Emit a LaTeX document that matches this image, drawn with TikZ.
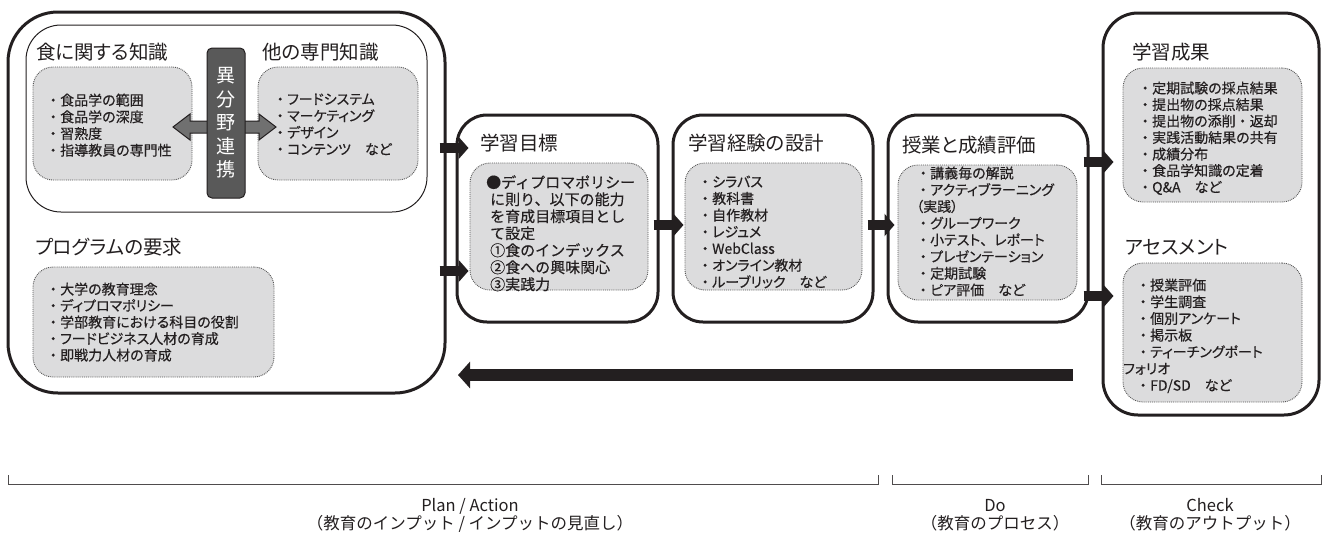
\documentclass[tikz,border=0pt]{standalone}
\usepackage{fontspec}
\usetikzlibrary{arrows.meta}
\newfontfamily\jp[RawFeature=+palt]{Noto Sans CJK JP}
\newfontfamily\jpm[RawFeature=+palt, FakeBold=0.35]{Noto Sans CJK JP}
\newfontfamily\jpn{Noto Sans CJK JP}
\newfontfamily\jpnm[FakeBold=0.35]{Noto Sans CJK JP}
\newcommand\jbul{{\jpnm ・}}
\newcommand\jten{{\jpnm 、}}
\definecolor{ink}{HTML}{231F20}
\definecolor{lgray}{HTML}{DCDCDD}
\definecolor{dgray}{HTML}{595959}
\definecolor{agray}{HTML}{707070}
\definecolor{dotc}{HTML}{555555}
\begin{document}
\begin{tikzpicture}[x=1pt,y=-1pt,
  bigbox/.style={draw=ink, line width=3pt, rounded corners=#1, inner sep=0pt, fill=white},
  thinbox/.style={draw=ink, line width=1pt, rounded corners=35pt, inner sep=0pt},
  graybox/.style={draw=dotc, fill=lgray, line width=0.9pt, densely dotted, rounded corners=20pt, inner sep=0pt},
  darkbox/.style={draw=ink, fill=dgray, line width=1pt, rounded corners=5pt, inner sep=0pt},
  ttl/.style={inner sep=0pt, anchor=west, text=ink, font=\jp\fontsize{19.5}{22}\selectfont},
  lst/.style={inner sep=0pt, anchor=north west, align=left, text=ink, font=\jpm\fontsize{14}{#1}\selectfont},
  blk/.style={draw=ink, line width=10pt, -{Triangle[length=10pt,width=22pt]}},
  ret/.style={draw=ink, line width=12pt, -{Triangle[length=12pt,width=26pt]}},
  brk/.style={draw=ink!80, line width=0.8pt},
  lbl/.style={inner sep=0pt, align=center, text=ink, font=\jpn\fontsize{16.5}{18}\selectfont}]
\useasboundingbox (0,0) rectangle (1323,536);

% ---------- Plan box ----------
\node[bigbox=50pt, minimum width=437pt, minimum height=381pt] (plan) at (226.5,202.5) {};
\node[thinbox, minimum width=401pt, minimum height=187pt] (know) at (226.5,118.5) {};
\node[ttl] (tfood) at (36,52) {食に関する知識};
\node[ttl] (tother) at (262,52) {他の専門知識};
\node[graybox, minimum width=159pt, minimum height=113pt] (foodg) at (112.5,123.5) {};
\node[graybox, minimum width=160pt, minimum height=113pt] (otherg) at (338,123.5) {};
\node[lst=16.7] (lfood) at (46,93.4) {\jbul 食品学の範囲\\\jbul 食品学の深度\\\jbul 習熟度\\\jbul 指導教員の専門性};
\node[lst=16.7] (lother) at (273,93.4) {\jbul フードシステム\\\jbul マーケティング\\\jbul デザイン\\\jbul コンテンツ　など};
\fill[agray, draw=ink, line width=1pt] (173,127) -- (190,114) -- (190,121) -- (259,121) -- (259,114) -- (276,127) -- (259,140) -- (259,133) -- (190,133) -- (190,140) -- cycle;
\node[darkbox, minimum width=38pt, minimum height=150pt, align=center, text=white, font=\jpn\fontsize{19}{23.5}\selectfont] (ibun) at (226,123) {異\\分\\野\\連\\携};

\node[ttl] (tprog) at (35,247) {プログラムの要求};
\node[graybox, minimum width=241pt, minimum height=110pt] (progg) at (153.5,322) {};
\node[lst=16.5] (lprog) at (46,282.4) {\jbul 大学の教育理念\\\jbul ディプロマポリシー\\\jbul 学部教育における科目の役割\\\jbul フードビジネス人材の育成\\\jbul 即戦力人材の育成};

% ---------- Goal ----------
\node[bigbox=30pt, minimum width=201pt, minimum height=207pt] (goal) at (557.5,218.5) {};
\node[ttl] (tgoal) at (480,143) {学習目標};
\node[graybox, minimum width=178pt, minimum height=127pt] (goalg) at (559,226.5) {};
\node[inner sep=0pt, anchor=north west, align=left, text=ink, font=\jpnm\fontsize{15}{17}\selectfont] (lgoal) at (486,175)
  {●ディプロマポリシー\\\hspace{4pt}に則り、以下の能力\\\hspace{4pt}を育成目標項目とし\\\hspace{4pt}て設定\\\hspace{4pt}①食のインデックス\\\hspace{4pt}②食への興味関心\\\hspace{4pt}③実践力};

% ---------- Design ----------
\node[bigbox=30pt, minimum width=200pt, minimum height=207pt] (design) at (773,218.5) {};
\node[ttl] (tdesign) at (688,143) {学習経験の設計};
\node[graybox, minimum width=177pt, minimum height=127pt] (designg) at (773.5,226.5) {};
\node[lst=16.7] (ldesign) at (698,175.4) {\jbul シラバス\\\jbul 教科書\\\jbul 自作教材\\\jbul レジュメ\\\jbul WebClass\\\jbul オンライン教材\\\jbul ルーブリック　など};

% ---------- Class ----------
\node[bigbox=30pt, minimum width=200pt, minimum height=207pt] (class) at (988,218.5) {};
\node[ttl] (tclass) at (902,145) {授業と成績評価};
\node[graybox, minimum width=179pt, minimum height=135pt] (classg) at (987.5,232.5) {};
\node[lst=16.7] (lclass) at (916,166.4) {\jbul 講義毎の解説\\\jbul アクティブラーニング\\（実践）\\\jbul グループワーク\\\jbul 小テスト\jten レポート\\\jbul プレゼンテーション\\\jbul 定期試験\\\jbul ピア評価　など};

% ---------- Output ----------
\node[bigbox=35pt, minimum width=216pt, minimum height=402pt] (out) at (1211,214) {};
\node[ttl] (tres) at (1132,52) {学習成果};
\node[graybox, minimum width=179pt, minimum height=134pt] (resg) at (1212.5,135) {};
\node[lst=16.5] (lres) at (1138,81.4) {\jbul 定期試験の採点結果\\\jbul 提出物の採点結果\\\jbul 提出物の添削\jbul 返却\\\jbul 実践活動結果の共有\\\jbul 成績分布\\\jbul 食品学知識の定着\\\jbul Q\&A　など};
\node[ttl] (tass) at (1125,247) {アセスメント};
\node[graybox, minimum width=179pt, minimum height=139pt] (assg) at (1212.5,332.5) {};
\node[lst=16.7] (lass) at (1123,278.4) {\hspace{13pt}\jbul 授業評価\\\hspace{13pt}\jbul 学生調査\\\hspace{13pt}\jbul 個別アンケート\\\hspace{13pt}\jbul 掲示板\\\hspace{13pt}\jbul ティーチングポート\\フォリオ\\\hspace{13pt}\jbul FD/SD　など};

% ---------- Arrows ----------
\coordinate (ya) at (0,148);
\coordinate (yb) at (0,271);
\coordinate (yc) at (0,225);
\coordinate (yd) at (0,162);
\coordinate (ye) at (0,296);
\draw[blk] ([xshift=-7pt]plan.east |- ya) -- ([xshift=13pt]goal.west |- ya);
\draw[blk] ([xshift=-7pt]plan.east |- yb) -- ([xshift=13pt]goal.west |- yb);
\draw[blk] ([xshift=-6pt]goal.east |- yc) -- ([xshift=12pt]design.west |- yc);
\draw[blk] ([xshift=-7pt]design.east |- yc) -- ([xshift=8pt]class.west |- yc);
\draw[blk] ([xshift=-6pt]class.east |- yd) -- ([xshift=12pt]out.west |- yd);
\draw[blk] ([xshift=-6pt]class.east |- ye) -- ([xshift=12pt]out.west |- ye);
\coordinate (rs) at (1073,375);
\coordinate (re) at (458,375);
\draw[ret] (rs) -- (re);

% ---------- Phase brackets ----------
\draw[brk] (8,475) -- (8,484) -- (878,484) -- (878,475);
\draw[brk] (892,475) -- (892,484) -- (1088,484) -- (1088,475);
\draw[brk] (1101,475) -- (1101,484) -- (1321,484) -- (1321,475);
\node[lbl] (pa) at (470,515) {Plan / Action\\（教育のインプット / インプットの見直し）};
\node[lbl] (dolbl) at (995,515) {Do\\（教育のプロセス）};
\node[lbl] (cklbl) at (1210,515) {Check\\（教育のアウトプット）};
\end{tikzpicture}
\end{document}
